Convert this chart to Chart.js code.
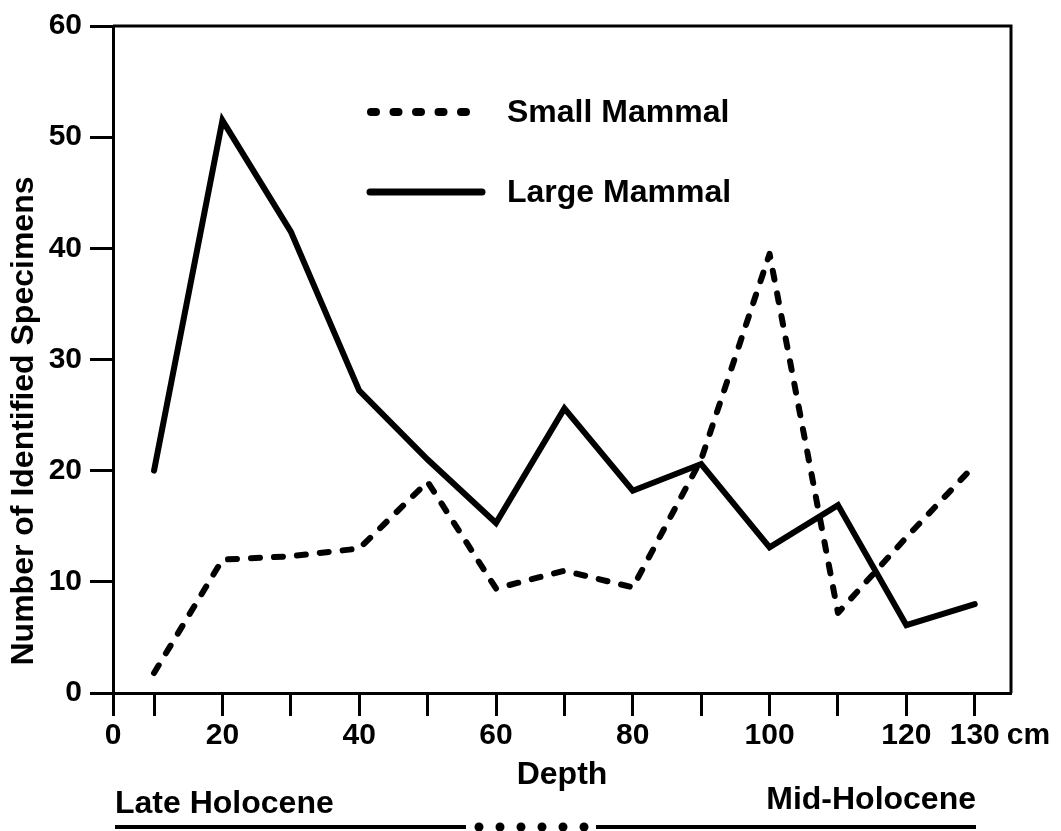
<!DOCTYPE html>
<html lang="en">
<head>
  <meta charset="UTF-8">
  <title>Identified specimens by depth</title>
  <script src="https://cdn.jsdelivr.net/npm/chart.js"></script>
  <style>
    body {
      margin: 0;
      background: #fff;
    }
    #wrap {
      width: 1061px;
      height: 831px;
    }
  </style>
</head>
<body>
  <div id="wrap">
    <canvas id="depthChart"></canvas>
  </div>

  <script>
    // depth (cm) of each sample level
    const depths = [10, 20, 30, 40, 50, 60, 70, 80, 90, 100, 110, 120, 130];
    const smallMammal = [1.8, 12, 12.3, 13, 19, 9.4, 11, 9.5, 21, 39.5, 7.2, 14, 20.5];
    const largeMammal = [20, 51.5, 41.5, 27.2, 21, 15.3, 25.6, 18.2, 20.6, 13.1, 16.9, 6.1, 8];

    // the drawn axis starts a little before the 10 cm level and is labelled 0 there
    const xTickValues = [4, 10, 20, 30, 40, 50, 60, 70, 80, 90, 100, 110, 120, 130];
    const xTickLabels = ['0', '', '20', '', '40', '', '60', '', '80', '', '100', '', '120', '130'];

    Chart.defaults.font.family = '"Liberation Sans", Arial, sans-serif';
    Chart.defaults.font.weight = 'bold';
    Chart.defaults.color = '#000';

    const boldFont = size => 'bold ' + size + 'px "Liberation Sans", Arial, sans-serif';

    // frame, legend, y title and the period bar under the axis
    const extras = {
      id: 'extras',
      afterDraw(chart) {
        const { ctx, chartArea: a, scales: { x } } = chart;
        ctx.save();
        ctx.strokeStyle = '#000';
        ctx.fillStyle = '#000';

        ctx.lineWidth = 3;
        ctx.beginPath();
        ctx.moveTo(a.left, a.top);
        ctx.lineTo(a.right, a.top);
        ctx.lineTo(a.right, a.bottom);
        ctx.stroke();

        // legend
        ctx.lineCap = 'round';
        ctx.lineWidth = 8;
        ctx.setLineDash([5, 17.5]);
        ctx.beginPath();
        ctx.moveTo(371, 112);
        ctx.lineTo(478, 112);
        ctx.stroke();
        ctx.setLineDash([]);
        ctx.lineWidth = 7;
        ctx.beginPath();
        ctx.moveTo(370, 192);
        ctx.lineTo(482, 192);
        ctx.stroke();

        ctx.font = boldFont(32);
        ctx.textBaseline = 'middle';
        ctx.textAlign = 'left';
        ctx.fillText('Small Mammal', 507, 113);
        ctx.fillText('Large Mammal', 507, 193);

        // unit after the last tick label
        ctx.font = boldFont(30);
        ctx.fillText('cm', x.getPixelForValue(130) + 32, 736);

        // period labels and bar
        ctx.font = boldFont(32);
        ctx.fillText('Late Holocene', 115, 804);
        ctx.textAlign = 'right';
        ctx.fillText('Mid-Holocene', 976, 800);

        ctx.lineCap = 'butt';
        ctx.lineWidth = 4;
        ctx.beginPath();
        ctx.moveTo(115, 827);
        ctx.lineTo(466, 827);
        ctx.moveTo(596, 827);
        ctx.lineTo(976, 827);
        ctx.stroke();
        for (let i = 0; i < 6; i++) {
          ctx.beginPath();
          ctx.arc(479 + i * 21, 827, 4.5, 0, Math.PI * 2);
          ctx.fill();
        }

        // y axis title
        ctx.translate(24, 421);
        ctx.rotate(-Math.PI / 2);
        ctx.textAlign = 'center';
        ctx.fillText('Number of Identified Specimens', 0, 0);
        ctx.restore();
      }
    };

    const ctx = document.getElementById('depthChart').getContext('2d');
    const chart = new Chart(ctx, {
      type: 'line',
      data: {
        datasets: [{
          label: 'Small Mammal',
          data: depths.map((d, i) => ({ x: d, y: smallMammal[i] })),
          borderColor: '#000',
          borderWidth: 6,
          borderDash: [9, 14],
          borderCapStyle: 'round',
          borderJoinStyle: 'round',
          pointRadius: 0,
          tension: 0
        }, {
          label: 'Large Mammal',
          data: depths.map((d, i) => ({ x: d, y: largeMammal[i] })),
          borderColor: '#000',
          borderWidth: 6,
          borderCapStyle: 'round',
          pointRadius: 0,
          tension: 0
        }]
      },
      options: {
        responsive: true,
        maintainAspectRatio: false,
        animation: false,
        layout: { padding: { top: 24, right: 50, left: 0, bottom: 0 } },
        plugins: {
          legend: { display: false },
          tooltip: { enabled: false }
        },
        scales: {
          x: {
            type: 'linear',
            min: 4,
            max: 135.3,
            afterFit: s => { s.height = 138; },
            afterBuildTicks: s => { s.ticks = xTickValues.map(v => ({ value: v })); },
            ticks: {
              padding: 2,
              autoSkip: false,
              maxRotation: 0,
              font: { size: 30, weight: 'bold' },
              callback: (v, i) => xTickLabels[i]
            },
            grid: {
              drawOnChartArea: false,
              tickLength: 23,
              tickWidth: 3,
              tickColor: '#000'
            },
            border: { display: true, width: 3, color: '#000' },
            title: {
              display: true,
              text: 'Depth',
              font: { size: 32, weight: 'bold' },
              padding: { top: 0, bottom: 37 }
            }
          },
          y: {
            min: 0,
            max: 60,
            afterFit: s => { s.width = 113; },
            ticks: {
              stepSize: 10,
              padding: 8,
              font: { size: 30, weight: 'bold' }
            },
            grid: {
              drawOnChartArea: false,
              tickLength: 23,
              tickWidth: 3,
              tickColor: '#000'
            },
            border: { display: true, width: 3, color: '#000' }
          }
        }
      },
      plugins: [extras]
    });
  </script>
</body>
</html>
